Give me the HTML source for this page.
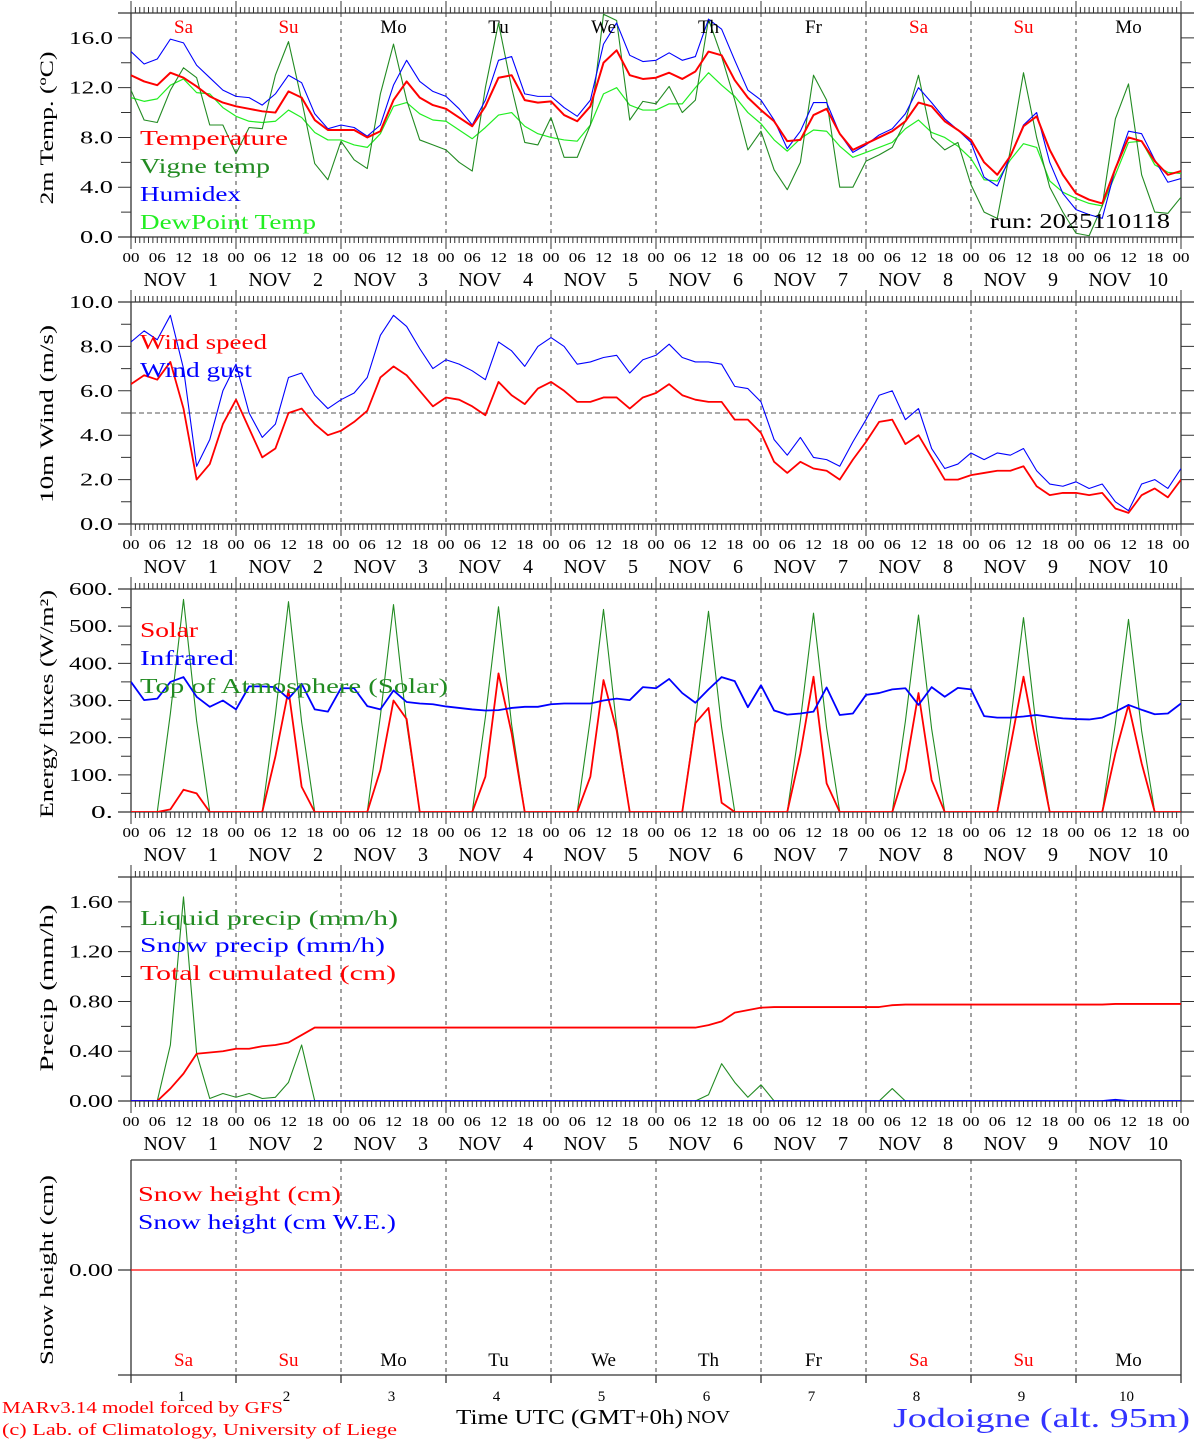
<!DOCTYPE html>
<html><head><meta charset="utf-8"><title>MAR forecast Jodoigne</title>
<style>
html,body{margin:0;padding:0;background:#fff;}
svg{display:block;font-family:"Liberation Serif",serif;}
</style></head>
<body>
<svg id="chart" xmlns="http://www.w3.org/2000/svg" width="1194" height="1440" viewBox="0 0 1194 1440"></svg>
<script>
// ---- data (3-hourly steps from Nov 1 00 UTC) ----
const STEP = 3;
const dayNames = ["Sa","Su","Mo","Tu","We","Th","Fr","Sa","Su","Mo"];
const dayNumbers = ["1","2","3","4","5","6","7","8","9","10"];
const hourLabels = ["00","06","12","18"];
const tempTicks = ["0.0","4.0","8.0","12.0","16.0"];
const windTicks = ["0.0","2.0","4.0","6.0","8.0","10.0"];
const energyTicks = ["0.","100.","200.","300.","400.","500.","600."];
const precipTicks = ["0.00","0.40","0.80","1.20","1.60"];
const snowTicks = ["0.00"];

const temperature = [13.0,12.5,12.2,13.2,12.8,12.1,11.3,10.8,10.5,10.3,10.1,10.0,11.7,11.2,9.4,8.6,8.6,8.6,8.0,8.5,11.0,12.5,11.2,10.6,10.3,9.6,8.9,10.5,12.8,13.0,11.0,10.8,10.9,9.8,9.3,10.5,14.0,15.0,13.0,12.7,12.8,13.2,12.7,13.3,14.9,14.6,12.6,11.2,10.2,9.3,7.7,7.8,9.8,10.3,8.3,7.0,7.5,8.0,8.5,9.3,10.8,10.5,9.3,8.6,7.8,6.0,5.0,6.5,8.9,9.7,7.0,5.0,3.5,3.0,2.7,5.5,8.0,7.7,6.1,5.0,5.3];
const vigneTemp = [11.8,9.4,9.2,11.8,13.6,12.8,9.0,9.0,6.7,8.8,8.7,13.0,15.7,11.0,5.9,4.6,7.7,6.2,5.5,11.5,15.5,11.0,7.8,7.4,7.0,6.0,5.3,12.0,17.2,12.0,7.6,7.4,9.6,6.4,6.4,9.0,17.9,17.4,9.4,10.9,10.7,12.1,10.0,11.0,17.5,14.5,11.0,7.0,8.5,5.4,3.8,6.0,13.0,11.0,4.0,4.0,6.1,6.6,7.2,9.3,13.0,8.0,7.0,7.6,4.2,2.0,1.5,7.0,13.2,8.0,4.0,2.0,0.3,0.1,2.5,9.5,12.3,5.0,2.0,1.9,3.2];
const humidex = [14.9,13.9,14.3,15.9,15.6,13.8,12.8,11.8,11.3,11.2,10.6,11.5,13.0,12.4,9.9,8.7,9.0,8.8,8.1,9.0,12.2,14.2,12.5,11.7,11.3,10.3,9.0,11.0,14.2,14.5,11.5,11.3,11.3,10.4,9.7,11.0,15.5,17.2,14.6,14.1,14.2,14.8,14.2,14.5,17.5,16.7,14.2,11.8,11.0,9.4,7.1,8.5,10.8,10.8,8.3,6.8,7.4,8.2,8.7,9.9,12.0,10.8,9.5,8.6,7.6,4.8,4.1,6.5,9.0,10.0,6.0,3.5,2.2,1.8,1.5,5.5,8.5,8.3,6.2,4.4,4.7];
const dewPoint = [11.2,10.9,11.1,12.2,12.7,11.6,11.5,10.4,9.7,9.3,9.2,9.3,10.2,9.6,8.4,7.8,7.8,7.4,7.2,8.3,10.5,10.8,9.9,9.4,9.3,8.6,7.9,8.8,9.8,10.0,8.9,8.3,8.0,7.8,7.7,9.0,11.5,12.0,10.6,10.2,10.2,10.7,10.7,12.0,13.2,12.2,11.3,10.0,9.1,7.8,6.9,7.9,8.6,8.5,7.3,6.4,6.8,7.2,7.6,8.7,9.4,8.4,8.0,7.3,6.3,4.6,4.5,6.2,7.5,7.2,4.5,3.6,3.1,2.7,2.5,5.0,7.6,7.7,5.8,5.2,5.1];

const windSpeed = [6.3,6.7,6.5,7.3,5.2,2.0,2.7,4.5,5.6,4.3,3.0,3.4,5.0,5.2,4.5,4.0,4.2,4.6,5.1,6.6,7.1,6.7,6.0,5.3,5.7,5.6,5.3,4.9,6.4,5.8,5.4,6.1,6.4,6.0,5.5,5.5,5.7,5.7,5.2,5.7,5.9,6.3,5.8,5.6,5.5,5.5,4.7,4.7,4.1,2.8,2.3,2.8,2.5,2.4,2.0,2.9,3.7,4.6,4.7,3.6,4.0,3.0,2.0,2.0,2.2,2.3,2.4,2.4,2.6,1.7,1.3,1.4,1.4,1.3,1.4,0.7,0.5,1.3,1.6,1.2,2.0];
const windGust = [8.2,8.7,8.3,9.4,7.0,2.6,3.8,6.0,7.2,5.0,3.9,4.5,6.6,6.8,5.8,5.2,5.6,5.9,6.6,8.5,9.4,8.9,7.9,7.0,7.4,7.2,6.9,6.5,8.2,7.8,7.1,8.0,8.4,8.0,7.2,7.3,7.5,7.6,6.8,7.4,7.6,8.1,7.5,7.3,7.3,7.2,6.2,6.1,5.5,3.8,3.1,3.9,3.0,2.9,2.6,3.7,4.7,5.8,6.0,4.7,5.2,3.4,2.5,2.7,3.2,2.9,3.2,3.1,3.4,2.4,1.8,1.7,1.9,1.6,1.8,1.0,0.6,1.8,2.0,1.6,2.5];

const solar = [0,0,0,7,60,50,0,0, 0,0,0,149,328,68,0,0, 0,0,0,113,300,250,0,0, 0,0,0,95,373,212,0,0, 0,0,0,95,355,220,0,0, 0,0,0,239,280,25,0,0, 0,0,0,158,364,77,0,0, 0,0,0,113,320,86,0,0, 0,0,0,176,364,176,0,0, 0,0,0,158,288,131,0,0, 0];
const infrared = [350,301,305,350,363,310,283,300,276,338,338,336,305,345,276,270,333,333,285,276,327,296,292,290,284,280,276,273,274,280,283,283,290,292,292,292,300,305,301,336,333,358,320,294,330,363,352,282,341,273,262,265,270,335,261,265,315,320,330,333,288,336,310,334,330,258,254,254,257,261,256,252,250,249,254,270,288,275,263,265,292];
const topOfAtmosphere = [0,0,0,265,572,245,0,0, 0,0,0,262,566,242,0,0, 0,0,0,258,558,238,0,0, 0,0,0,255,552,235,0,0, 0,0,0,252,545,232,0,0, 0,0,0,248,540,228,0,0, 0,0,0,246,535,226,0,0, 0,0,0,244,530,224,0,0, 0,0,0,240,523,220,0,0, 0,0,0,238,518,218,0,0, 0];

const liquidPrecip = [0,0,0,0.45,1.64,0.38,0.02,0.06,0.03,0.06, 0.02,0.03,0.15,0.45,0,0,0,0,0,0, 0,0,0,0,0,0,0,0,0,0, 0,0,0,0,0,0,0,0,0,0, 0,0,0,0,0.05,0.30,0.15,0.03,0.13,0, 0,0,0,0,0,0,0,0,0.10,0, 0,0,0,0,0,0,0,0,0,0, 0,0,0,0,0,0,0,0,0,0, 0];
const snowPrecip = [0,0,0,0,0,0,0,0,0,0, 0,0,0,0,0,0,0,0,0,0, 0,0,0,0,0,0,0,0,0,0, 0,0,0,0,0,0,0,0,0,0, 0,0,0,0,0,0,0,0,0,0, 0,0,0,0,0,0,0,0,0,0, 0,0,0,0,0,0,0,0,0,0, 0,0,0,0,0,0.01,0,0,0,0, 0];
const totalCumulated = [0,0,0,0.10,0.22,0.38,0.39,0.40,0.42,0.42, 0.44,0.45,0.47,0.53,0.59,0.59,0.59,0.59,0.59,0.59, 0.59,0.59,0.59,0.59,0.59,0.59,0.59,0.59,0.59,0.59, 0.59,0.59,0.59,0.59,0.59,0.59,0.59,0.59,0.59,0.59, 0.59,0.59,0.59,0.59,0.61,0.64,0.71,0.73,0.75,0.755, 0.755,0.755,0.755,0.755,0.755,0.755,0.755,0.755,0.77,0.775, 0.775,0.775,0.775,0.775,0.775,0.775,0.775,0.775,0.775,0.775, 0.775,0.775,0.775,0.775,0.775,0.78,0.78,0.78,0.78,0.78, 0.78];
const snowHeight = [0,0,0,0,0,0,0,0,0,0, 0,0,0,0,0,0,0,0,0,0, 0,0,0,0,0,0,0,0,0,0, 0,0,0,0,0,0,0,0,0,0, 0,0,0,0,0,0,0,0,0,0, 0,0,0,0,0,0,0,0,0,0, 0,0,0,0,0,0,0,0,0,0, 0,0,0,0,0,0,0,0,0,0, 0];

// ---- layout ----
const NS = 'http://www.w3.org/2000/svg';
const svg = document.getElementById('chart');
const X0 = 131, X1 = 1181, DAYS = 10;
function mk(tag, attrs, parent) {
  const e = document.createElementNS(NS, tag);
  for (const k in attrs) e.setAttribute(k, attrs[k]);
  (parent || svg).appendChild(e);
  return e;
}
function xH(h) { return X0 + h * (X1 - X0) / (DAYS * 24); }
function xI(i) { return xH(i * STEP); }
function panel(top, bottom, min, max) {
  return { top, bottom, min, max, y: v => bottom - (v - min) / (max - min) * (bottom - top) };
}
const P = {
  temp: panel(13, 237, 0, 18),
  wind: panel(302, 524, 0, 10),
  energy: panel(589, 812, 0, 600),
  precip: panel(877, 1101, 0, 1.8),
  snow: panel(1160, 1375, -1.05, 1.1)
};

function txt(s, x, y, size, color, anchor, len, parent) {
  const t = mk('text', { x: x, y: y, 'font-size': size, fill: color || '#000', 'text-anchor': anchor || 'start' }, parent);
  if (len) { t.setAttribute('textLength', len); t.setAttribute('lengthAdjust', 'spacingAndGlyphs'); }
  t.textContent = s;
  return t;
}

function frame(name, p, tickVals, tickLabels, minorVals) {
  const g = mk('g', {});
  
  
  for (let d = 1; d < DAYS; d++) {
    const l = mk('line', { x1: xH(24 * d), x2: xH(24 * d), y1: p.top, y2: p.bottom, stroke: '#444', 'stroke-width': 1, 'stroke-dasharray': '4,4' }, g);
    
    
  }
  const ax = mk('path', { d: `M118,${p.top}H1194M118,${p.bottom}H1194M${X0},${p.top}V${p.bottom}M${X1},${p.top}V${p.bottom}`, stroke: '#333', 'stroke-width': 1.3, fill: 'none' }, g);
  
  
  let d = '';
  for (let h = 0; h <= DAYS * 24; h++) {
    const len = (h % 24 === 0) ? 12 : 6;
    const x = xH(h).toFixed(2);
    d += `M${x},${p.top}v${-len}M${x},${p.bottom}v${len}`;
  }
  tickVals.forEach(v => { const y = p.y(v).toFixed(2); d += `M118,${y}H${X0}M${X1},${y}H1194`; });
  minorVals.forEach(v => { const y = p.y(v).toFixed(2); d += `M121,${y}H${X0}M${X1},${y}H1191`; });
  const tk = mk('path', { d: d, stroke: '#333', 'stroke-width': 1, fill: 'none' }, g);
  
  
  tickVals.forEach((v, i) => {
    const t = txt(tickLabels[i], 113, p.y(v) + 6, 18, '#000', 'end', tickLabels[i].length * 11, g);
    
    
  });
}

function xLabels(name, p) {
  for (let d = 0; d <= DAYS; d++) {
    const hs = d < DAYS ? hourLabels : [hourLabels[0]];
    hs.forEach((hl, k) => {
      const t = txt(hl, xH(24 * d + 6 * k), p.bottom + 25, 14, '#000', 'middle', 17);
      
      
    });
    if (d < DAYS) {
      const n = txt('NOV', xH(24 * d) + 34, p.bottom + 49, 20, '#000', 'middle', 43);
      
      
      const m = txt(dayNumbers[d], xH(24 * d) + 82, p.bottom + 49, 20, '#000', 'middle');
      
      
    }
  }
}

function yTitle(s, cy, len) {
  const t = mk('text', { x: 0, y: 0, 'font-size': 19, fill: '#000', 'text-anchor': 'middle', transform: `translate(53,${cy}) rotate(-90)`, textLength: len, lengthAdjust: 'spacingAndGlyphs' });
  t.textContent = s;
  return t;
}

let clipN = 0;
function clipFor(p) {
  const id = 'clip' + (clipN++);
  const cp = mk('clipPath', { id: id });
  mk('rect', { x: X0, y: p.top, width: X1 - X0, height: p.bottom - p.top }, cp);
  return 'url(#' + id + ')';
}
function series(arr, p, color, width, clip) {
  let d = '';
  arr.forEach((v, i) => { d += (i ? 'L' : 'M') + xI(i).toFixed(2) + ',' + p.y(v).toFixed(2); });
  return mk('path', { d: d, stroke: color, 'stroke-width': width, fill: 'none', 'stroke-linejoin': 'round', 'clip-path': clip });
}
function legend(s, x, y, color, len) {
  return txt(s, x, y, 21, color, 'start', len);
}

const RED = '#ff0000', DGREEN = '#228b22', BLUE = '#0000ff', LGREEN = '#22ee22';

// ===== Panel 1: temperature =====
frame('temp', P.temp, [0, 4, 8, 12, 16], tempTicks, [2, 6, 10, 14]);
xLabels('temp', P.temp);
let c = clipFor(P.temp);
let s;
s = series(dewPoint, P.temp, LGREEN, 1.2, c);


s = series(vigneTemp, P.temp, DGREEN, 1.1, c);


s = series(humidex, P.temp, BLUE, 1.1, c);


s = series(temperature, P.temp, RED, 2, c);


dayNames.forEach((n, d) => {
  const t = txt(n, xH(24 * d + 12), 33, 19, (n === 'Sa' || n === 'Su') ? RED : '#000', 'middle');
  
  
});
s = legend('Temperature', 140, 145, RED, 148);


s = legend('Vigne temp', 140, 173, DGREEN, 130);


s = legend('Humidex', 140, 201, BLUE, 101);


s = legend('DewPoint Temp', 140, 229, LGREEN, 176);


s = txt('run: 2025110118', 990, 228, 21, '#000', 'start', 180);


s = yTitle('2m Temp. (ºC)', 128, 153);



// ===== Panel 2: wind =====
frame('wind', P.wind, [0, 2, 4, 6, 8, 10], windTicks, [1, 3, 5, 7, 9]);
xLabels('wind', P.wind);
s = mk('line', { x1: X0, x2: X1, y1: P.wind.y(5), y2: P.wind.y(5), stroke: '#555', 'stroke-width': 1, 'stroke-dasharray': '5,3' });


c = clipFor(P.wind);
s = series(windGust, P.wind, BLUE, 1.1, c);


s = series(windSpeed, P.wind, RED, 1.8, c);


s = legend('Wind speed', 140, 349, RED, 127);


s = legend('Wind gust', 140, 377, BLUE, 112);


s = yTitle('10m Wind (m/s)', 414, 178);



// ===== Panel 3: energy =====
frame('energy', P.energy, [0, 100, 200, 300, 400, 500, 600], energyTicks, [50, 150, 250, 350, 450, 550]);
xLabels('energy', P.energy);
c = clipFor(P.energy);
s = series(topOfAtmosphere, P.energy, DGREEN, 1.1, c);


s = series(solar, P.energy, RED, 1.8, c);


s = series(infrared, P.energy, BLUE, 1.8, c);


s = legend('Solar', 140, 637, RED, 58);


s = legend('Infrared', 140, 665, BLUE, 94);


s = legend('Top of Atmosphere (Solar)', 140, 693, DGREEN, 308);


s = yTitle('Energy fluxes (W/m²)', 704, 228);



// ===== Panel 4: precipitation =====
frame('precip', P.precip, [0, 0.4, 0.8, 1.2, 1.6], precipTicks, [0.2, 0.6, 1.0, 1.4]);
xLabels('precip', P.precip);
c = clipFor(P.precip);
s = series(liquidPrecip, P.precip, DGREEN, 1.1, c);


s = series(totalCumulated, P.precip, RED, 1.8, c);


s = series(snowPrecip, P.precip, BLUE, 1.8, c);


s = legend('Liquid precip (mm/h)', 140, 925, DGREEN, 258);


s = legend('Snow precip (mm/h)', 140, 952, BLUE, 245);


s = legend('Total cumulated (cm)', 140, 980, RED, 256);


s = yTitle('Precip (mm/h)', 988, 167);



// ===== Panel 5: snow height =====
(function () {
  const p = P.snow;
  const g = mk('g', {});
  
  
  for (let d = 1; d < DAYS; d++) {
    const l = mk('line', { x1: xH(24 * d), x2: xH(24 * d), y1: p.top, y2: p.bottom, stroke: '#444', 'stroke-width': 1, 'stroke-dasharray': '4,4' }, g);
    
    
  }
  let d = `M${X0},${p.top}H${X1}M118,${p.bottom}H${X1}M${X0},${p.top}V${p.bottom}M${X1},${p.top}V${p.bottom}`;
  for (let k = 0; k <= DAYS; k++) d += `M${xH(24 * k).toFixed(2)},${p.bottom}v8`;
  const y0 = p.y(0).toFixed(2);
  d += `M118,${y0}H${X0}M${X1},${y0}H1194`;
  const a = mk('path', { d: d, stroke: '#333', 'stroke-width': 1.3, fill: 'none' }, g);
  
  
  const tl = txt(snowTicks[0], 113, p.y(0) + 6, 18, '#000', 'end', 44, g);
  
  
})();
c = clipFor({ top: 1160, bottom: 1375 });
s = series(snowHeight, P.snow, RED, 1.3, c);


s = legend('Snow height (cm)', 138, 1201, RED, 203);


s = legend('Snow height (cm W.E.)', 138, 1229, BLUE, 258);


s = yTitle('Snow height (cm)', 1270, 190);


dayNames.forEach((n, d) => {
  const t = txt(n, xH(24 * d + 12), 1366, 19, (n === 'Sa' || n === 'Su') ? RED : '#000', 'middle');
  
  
  const u = txt(dayNumbers[d], xH(24 * d + 12) - 2, 1401, 15, '#000', 'middle');
  
  
});

// ===== footer =====
s = txt('MARv3.14 model forced by GFS', 2, 1413, 17, RED, 'start', 281);


s = txt('(c) Lab. of Climatology, University of Liege', 2, 1435, 17, RED, 'start', 395);


s = txt('Time UTC (GMT+0h)', 456, 1424, 21, '#000', 'start', 227);


s = txt('NOV', 687, 1423, 18, '#000', 'start', 43);


s = txt('Jodoigne (alt. 95m)', 893, 1427, 27, '#3333ff', 'start', 297);


</script>
</body></html>
